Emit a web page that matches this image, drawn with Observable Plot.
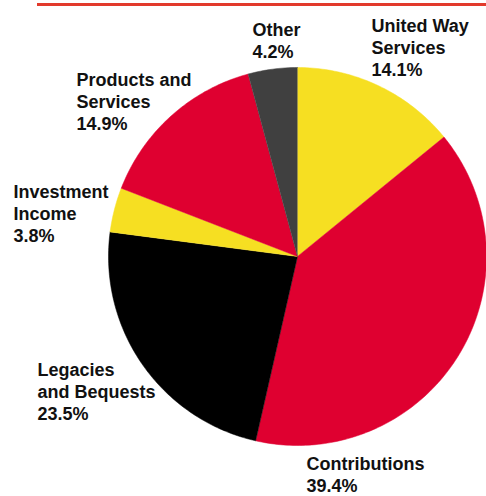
<!DOCTYPE html>
<html>
<head>
<meta charset="utf-8">
<script src="https://cdn.jsdelivr.net/npm/d3@7"></script>
<script src="https://cdn.jsdelivr.net/npm/@observablehq/plot@0.6"></script>
<style>
  html, body { margin: 0; padding: 0; background: #fff; }
  #chart svg { display: block; }
</style>
</head>
<body>
<div id="chart"></div>
<script>
// Data (clockwise from 12 o'clock)
const categories = ["United Way\nServices", "Contributions", "Legacies\nand Bequests", "Investment\nIncome", "Products and\nServices", "Other"];
const percents = [14.1, 39.4, 23.5, 3.8, 14.9, 4.2];
const colors = ["#f6df22", "#df0030", "#000000", "#f6df22", "#df0030", "#404040"];

// Layout
const W = 486, H = 496;
const cx = 297, cy = 256, R = 189;
const labelPos = [[371, 16], [306, 454], [37, 360], [13, 182], [76, 70], [252, 20]];

const pie = d3.pie().sort(null).value(d => d)(percents);
const slicePts = [];
pie.forEach((p, i) => {
  slicePts.push({i, x: cx, y: cy, c: colors[i]});
  const n = Math.max(4, Math.ceil((p.endAngle - p.startAngle) * 60));
  for (let k = 0; k <= n; k++) {
    const a = p.startAngle + (p.endAngle - p.startAngle) * k / n;
    slicePts.push({i, x: cx + R * Math.sin(a), y: cy - R * Math.cos(a), c: colors[i]});
  }
});

const labels = categories.map((c, i) => ({
  text: c + "\n" + percents[i].toFixed(1) + "%",
  x: labelPos[i][0], y: labelPos[i][1]
}));

const chart = Plot.plot({
  width: W, height: H,
  margin: 0,
  x: {domain: [0, W], range: [0, W], axis: null},
  y: {domain: [0, H], range: [0, H], axis: null},
  color: {type: "identity"},
  style: {fontFamily: "'Liberation Sans', Arial, sans-serif"},
  marks: [
    Plot.ruleY([4], {x1: 37, x2: W, stroke: "#e23a2c", strokeWidth: 3}),
    Plot.line(slicePts, {x: "x", y: "y", z: "i", fill: "c", stroke: "c", strokeWidth: 0.5, curve: "linear"}),
    Plot.text(labels, {x: "x", y: "y", text: "text", textAnchor: "start", lineAnchor: "top",
      lineHeight: 1.22, fontSize: 18, fontWeight: "bold", fill: "#111"})
  ]
});
document.getElementById("chart").append(chart);
</script>
</body>
</html>
